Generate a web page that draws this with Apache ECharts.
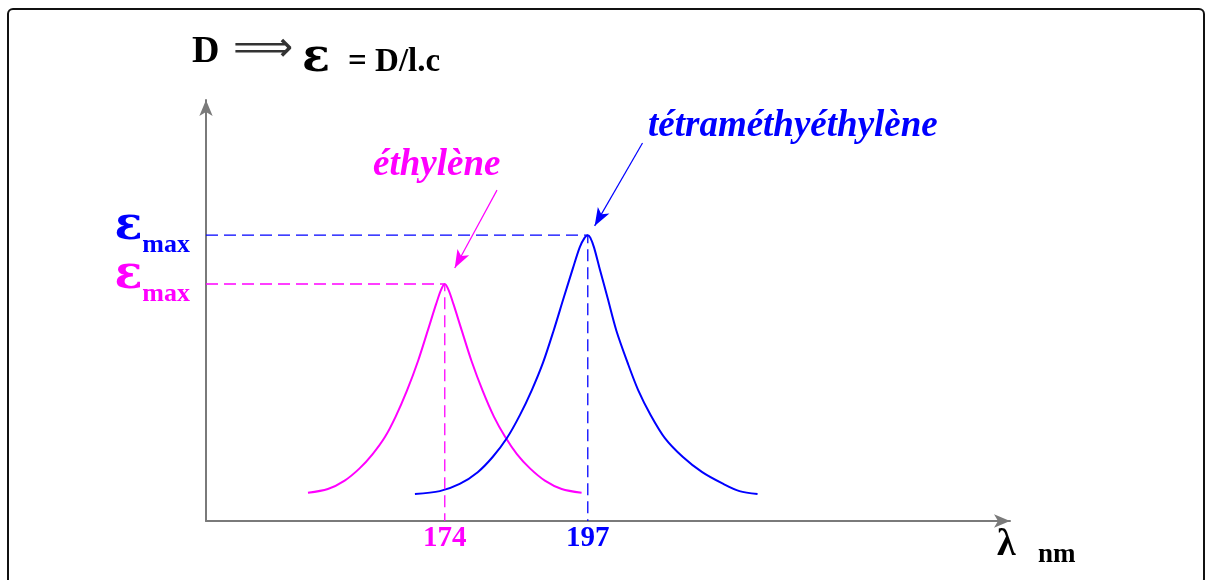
<!DOCTYPE html>
<html>
<head>
<meta charset="utf-8">
<script src="https://cdn.jsdelivr.net/npm/echarts@6/dist/echarts.min.js"></script>
<style>
  html, body { margin: 0; padding: 0; background: #fff; }
  #chart { width: 1206px; height: 580px; }
</style>
</head>
<body>
<div id="chart"></div>
<script>
// axes range (lambda in nm, D in arbitrary units)
const lambdaMin = 135.6;
const lambdaMax = 264.9;

// ethylene curve
const ethyleneX = [152.0, 155.2, 157.9, 160.3, 162.4, 164.4, 166.1, 167.9, 169.7, 171.3, 172.6, 173.4, 174, 174.6, 175.4, 176.7, 178.3, 180.1, 181.9, 183.7, 185.6, 187.7, 190.1, 192.8, 196.0];
const ethyleneY = [6.7, 7.6, 9.6, 12.5, 15.9, 20.0, 24.8, 30.9, 38.0, 45.4, 51.5, 54.9, 56.3, 54.9, 51.5, 45.4, 38.0, 30.9, 24.8, 20.0, 15.9, 12.5, 9.6, 7.6, 6.7];

// tetramethylethylene curve
const tetraX = [169.2, 173.2, 176.4, 179.3, 181.7, 184.0, 186.1, 188.0, 189.8, 191.5, 193.1, 194.6, 195.7, 196.5, 197, 197.4, 198.0, 198.9, 200.2, 201.6, 203.4, 205.1, 207.1, 209.4, 212.3, 215.4, 218.8, 221.4, 224.3];
const tetraY = [6.4, 7.1, 8.8, 11.6, 15.2, 19.7, 25.2, 31.1, 37.6, 45.2, 52.9, 60.0, 65.0, 67.3, 67.9, 67.3, 65.0, 60.0, 52.9, 45.2, 37.6, 31.1, 25.2, 19.7, 15.2, 11.6, 8.8, 7.1, 6.4];

// peaks: [lambda, epsilon max]
const ethylenePeak = [174, 56.3];
const tetraPeak = [197, 67.9];

// tick labels
const xTicks = [174, 197];

// annotation arrows: [from, to]
const ethyleneArrow = [[182.4, 78.6], [175.6, 60.1]];
const tetraArrow = [[205.8, 89.8], [198.1, 70.1]];

const MAGENTA = '#ff00ff';
const BLUE = '#0000ff';
const SERIF = '"Liberation Serif", "DejaVu Serif", serif';

const zip = (xs, ys) => xs.map((x, i) => [x, ys[i]]);

const chart = echarts.init(document.getElementById('chart'));

const axisLineStyle = {
  show: true,
  symbol: ['none', 'arrow'],
  symbolSize: [10, 16],
  lineStyle: { color: '#7a7a7a', width: 2 }
};

// one label per y axis, so the two epsilon labels never hide each other
const epsAxis = (value, color, showLine) => ({
  type: 'value',
  min: 0,
  max: 100,
  position: 'left',
  splitLine: { show: false },
  axisTick: { show: false },
  axisLine: showLine ? axisLineStyle : { show: false },
  axisLabel: {
    customValues: [value],
    showMinLabel: true,
    showMaxLabel: true,
    margin: 16,
    formatter: () => '{e|ε}{m|max}',
    rich: {
      e: { color, fontFamily: '"DejaVu Serif", serif', fontWeight: 'bold', fontSize: 46, lineHeight: 30, verticalAlign: 'bottom' },
      m: { color, fontFamily: SERIF, fontWeight: 'bold', fontSize: 26, lineHeight: 20, verticalAlign: 'bottom', padding: [0, 0, -8, 0] }
    }
  }
});

const option = {
  animation: false,
  grid: { left: 206, right: 196, top: 100, bottom: 59 },
  xAxis: {
    type: 'value',
    min: lambdaMin,
    max: lambdaMax,
    splitLine: { show: false },
    axisTick: { show: false },
    axisLine: axisLineStyle,
    axisLabel: {
      customValues: xTicks,
      showMinLabel: true,
      showMaxLabel: true,
      margin: 3,
      formatter: (v) => (Number(v) === tetraPeak[0] ? '{b|' + v + '}' : '{m|' + v + '}'),
      rich: {
        b: { color: BLUE, fontFamily: SERIF, fontWeight: 'bold', fontSize: 29 },
        m: { color: MAGENTA, fontFamily: SERIF, fontWeight: 'bold', fontSize: 29 }
      }
    }
  },
  yAxis: [
    epsAxis(tetraPeak[1], BLUE, true),
    epsAxis(ethylenePeak[1], MAGENTA, false)
  ],
  series: [
    {
      name: 'éthylène',
      type: 'line',
      data: zip(ethyleneX, ethyleneY),
      smooth: 0.3,
      symbol: 'none',
      lineStyle: { color: MAGENTA, width: 2 },
      markLine: {
        silent: true,
        symbol: ['none', 'arrow'],
        symbolSize: [10, 18],
        label: { show: false },
        lineStyle: { color: MAGENTA, width: 1.2, type: 'solid' },
        data: [[{ coord: ethyleneArrow[0] }, { coord: ethyleneArrow[1] }]]
      }
    },
    {
      name: 'tétraméthyéthylène',
      type: 'line',
      data: zip(tetraX, tetraY),
      smooth: 0.3,
      symbol: 'none',
      lineStyle: { color: BLUE, width: 2 },
      markLine: {
        silent: true,
        symbol: ['none', 'arrow'],
        symbolSize: [10, 18],
        label: { show: false },
        lineStyle: { color: BLUE, width: 1.2, type: 'solid' },
        data: [[{ coord: tetraArrow[0] }, { coord: tetraArrow[1] }]]
      }
    },
    {
      name: 'guide éthylène',
      type: 'line',
      data: [[lambdaMin, ethylenePeak[1]], ethylenePeak, [ethylenePeak[0], 0]],
      symbol: 'none',
      lineStyle: { color: MAGENTA, width: 1.3, type: [12, 6] }
    },
    {
      name: 'guide tétra',
      type: 'line',
      data: [[lambdaMin, tetraPeak[1]], tetraPeak, [tetraPeak[0], 0]],
      symbol: 'none',
      lineStyle: { color: BLUE, width: 1.3, type: [12, 6] }
    }
  ],
  graphic: [
    {
      type: 'rect',
      shape: { x: 8, y: 9, width: 1196, height: 575, r: 5 },
      style: { fill: 'none', stroke: '#111', lineWidth: 2 },
      silent: true
    },
    { type: 'text', x: 192, y: 52, style: { text: 'D', font: 'bold 38px ' + SERIF, fill: '#000', verticalAlign: 'middle' } },
    { type: 'text', x: 233, y: 50, style: { text: '⟹', font: '42px "DejaVu Sans"', fill: '#333', verticalAlign: 'middle' } },
    { type: 'text', x: 302, y: 59, style: { text: 'ε', font: 'bold 46px "DejaVu Serif"', fill: '#000', verticalAlign: 'middle' } },
    { type: 'text', x: 348, y: 62, style: { text: '= D/l.c', font: 'bold 33px ' + SERIF, fill: '#000', verticalAlign: 'middle' } },
    { type: 'text', x: 648, y: 126, style: { text: 'tétraméthyéthylène', font: 'italic bold 37px ' + SERIF, fill: BLUE, verticalAlign: 'middle' } },
    { type: 'text', x: 373, y: 165, style: { text: 'éthylène', font: 'italic bold 37px ' + SERIF, fill: MAGENTA, verticalAlign: 'middle' } },
    { type: 'text', x: 997, y: 545, style: { text: 'λ', font: 'bold 38px ' + SERIF, fill: '#000', verticalAlign: 'middle' } },
    { type: 'text', x: 1038, y: 555, style: { text: 'nm', font: 'bold 27px ' + SERIF, fill: '#000', verticalAlign: 'middle' } }
  ]
};

chart.setOption(option);
window.addEventListener('resize', () => {
  chart.resize();
});
</script>
</body>
</html>
